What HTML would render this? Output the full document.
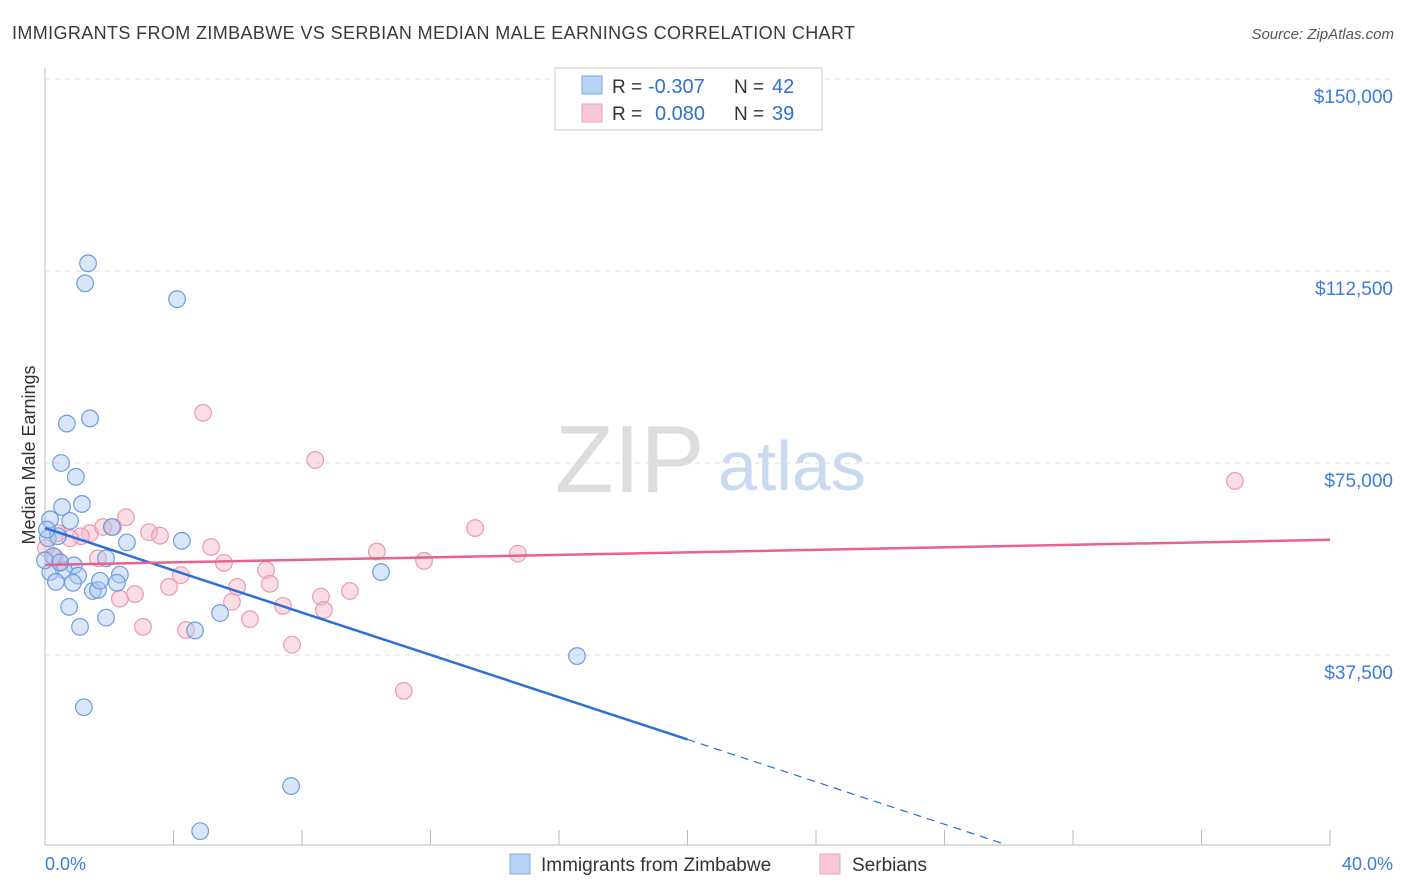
<!DOCTYPE html>
<html><head><meta charset="utf-8"><style>
body{margin:0;background:#fff;font-family:"Liberation Sans",sans-serif;overflow:hidden;}
svg text{font-family:"Liberation Sans",sans-serif;}
</style></head><body>
<svg id="c" width="1406" height="892" xmlns="http://www.w3.org/2000/svg" style="display:block">
<text x="12" y="39" font-size="18" fill="#3a3a3a" textLength="843">IMMIGRANTS FROM ZIMBABWE VS SERBIAN MEDIAN MALE EARNINGS CORRELATION CHART</text>
<text x="1394" y="39" font-size="15" fill="#555" font-style="italic" text-anchor="end">Source: ZipAtlas.com</text>
<text x="35" y="455" font-size="18" fill="#333" text-anchor="middle" transform="rotate(-90 35 455)">Median Male Earnings</text>
<text x="555" y="492" font-size="96" fill="#ddd" font-family="Liberation Serif">ZIP</text>
<text x="718" y="490" font-size="70" fill="#c9d9ef">atlas</text>
<g id="grid"></g><g id="pts"></g><g id="lines"></g>
<g>
<rect x="555" y="68" width="267" height="62" fill="#fff" stroke="#ccc"/>
<rect x="582" y="76" width="20" height="18" fill="#b8d2f5" stroke="#7aa6e0"/>
<rect x="582" y="104" width="20" height="18" fill="#f9c6d5" stroke="#eea0b8"/>
<text x="612" y="93" font-size="19" fill="#333">R =</text>
<text x="648" y="93" font-size="20" fill="#2f6fd6">-0.307</text>
<text x="734" y="93" font-size="19" fill="#333">N =</text>
<text x="772" y="93" font-size="20" fill="#2f6fd6">42</text>
<text x="612" y="120" font-size="19" fill="#333">R =</text>
<text x="655" y="120" font-size="20" fill="#2f6fd6">0.080</text>
<text x="734" y="120" font-size="19" fill="#333">N =</text>
<text x="772" y="120" font-size="20" fill="#2f6fd6">39</text>
</g>
<g>
<rect x="510" y="854" width="20" height="20" fill="#b8d2f5" stroke="#7aa6e0"/>
<text x="541" y="871" font-size="19" fill="#333">Immigrants from Zimbabwe</text>
<rect x="820" y="854" width="20" height="20" fill="#f9c6d5" stroke="#eea0b8"/>
<text x="852" y="871" font-size="19" fill="#333">Serbians</text>
</g>
<text x="45" y="870" font-size="18" fill="#3d7be0">0.0%</text>
<text x="1393" y="870" font-size="18" fill="#3d7be0" text-anchor="end">40.0%</text>
</svg>
<script>
const yTicks=[150000,112500,75000,37500];
const yTickLabels=["$150,000","$112,500","$75,000","$37,500"];
const blueX=[1.34,1.25,4.11,0.68,1.40,0.50,0.96,1.15,0.53,0.78,0.16,2.08,0.09,2.55,4.26,0.25,1.90,0.90,0.59,0.16,1.03,2.33,0.34,0.87,1.49,1.65,2.24,0.75,1.90,5.45,1.09,4.67,10.46,16.56,1.21,7.66,4.83,0,0.40,0.06,0.47,1.71];
const blueY=[114000,110100,107000,82700,83700,75000,72300,67000,66400,63700,64000,62500,60300,59500,59800,56800,56400,55000,54100,53700,53000,53200,51800,51600,50000,50200,51600,46900,44800,45700,43000,42300,53700,37300,27300,11900,3100,56000,60700,62000,55600,52000];
const pinkX=[4.92,8.41,37.04,13.39,2.52,2.12,3.24,3.58,0.40,1.40,1.12,1.81,1.65,0.31,5.17,5.57,10.33,11.80,14.72,6.88,4.23,5.98,7.00,2.33,2.80,3.86,5.82,7.41,8.59,8.68,9.49,3.05,4.39,6.38,7.69,11.17,0.03,0.47,0.78];
const pinkY=[84800,75600,71500,62300,64400,62500,61500,60800,61300,61300,60700,62500,56400,56600,58600,55500,57700,55900,57300,54100,53100,50800,51400,48500,49400,50800,47900,47100,48900,46300,50000,43000,42400,44500,39500,30500,58400,55500,60300];
const blueTrend=[0,62300,20,21000,29.9,500];
const pinkTrend=[0,55100,40,60000];
const X=p=>45+p*32.125, Y=v=>847-v*192/37500;
const NS="http://www.w3.org/2000/svg";
function mk(t,a,par){const e=document.createElementNS(NS,t);for(const k in a)e.setAttribute(k,a[k]);document.getElementById(par).appendChild(e);return e;}
mk('line',{x1:45,y1:68,x2:45,y2:845,stroke:'#bbb'},'grid');
mk('line',{x1:45,y1:845,x2:1330,y2:845,stroke:'#bbb'},'grid');
for(let i=0;i<=10;i++){const l=mk('line',{x1:X(i*4),y1:830,x2:X(i*4),y2:845,stroke:'#bbb'},'grid');

}
yTicks.forEach((v,i)=>{const g=mk('line',{x1:45,y1:Y(v),x2:1393,y2:Y(v),stroke:'#ddd','stroke-dasharray':'5,5'},'grid');


const t=mk('text',{x:1393,y:Y(v)+24,'font-size':19,fill:'#3d7be0','text-anchor':'end'},'grid');t.textContent=yTickLabels[i];

});
pinkX.forEach((x,i)=>{const c=mk('circle',{cx:X(x),cy:Y(pinkY[i]),r:8.3,fill:'rgba(247,180,200,0.45)',stroke:'#ec98b2','stroke-width':1.2},'pts');

});
blueX.forEach((x,i)=>{const c=mk('circle',{cx:X(x),cy:Y(blueY[i]),r:8.3,fill:'rgba(170,200,240,0.45)',stroke:'#6a9de0','stroke-width':1.2},'pts');

});
let l1=mk('line',{x1:X(blueTrend[0]),y1:Y(blueTrend[1]),x2:X(blueTrend[2]),y2:Y(blueTrend[3]),stroke:'#2b6fd8','stroke-width':2.5},'lines');


let l2=mk('line',{x1:X(blueTrend[2]),y1:Y(blueTrend[3]),x2:X(blueTrend[4]),y2:Y(blueTrend[5]),stroke:'#2b6fd8','stroke-width':1.2,'stroke-dasharray':'8,6'},'lines');


let l3=mk('line',{x1:X(pinkTrend[0]),y1:Y(pinkTrend[1]),x2:X(pinkTrend[2]),y2:Y(pinkTrend[3]),stroke:'#e8628c','stroke-width':2.5},'lines');


</script>
</body></html>
